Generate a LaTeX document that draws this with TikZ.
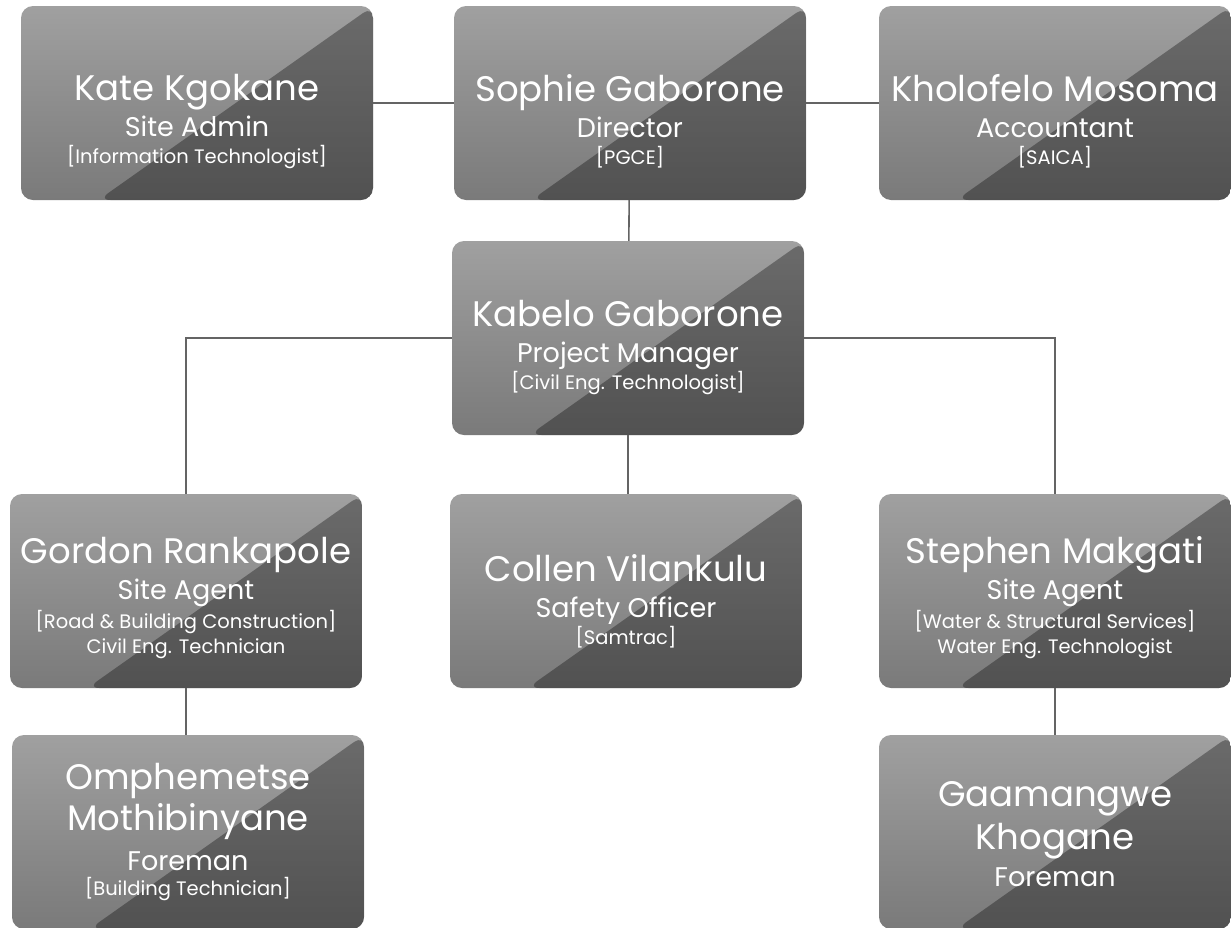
\documentclass[tikz,border=0pt]{standalone}
\usepackage{fontspec}
\setmainfont{Poppins}
\usetikzlibrary{calc}
\definecolor{boxtop}{RGB}{160,160,160}
\definecolor{boxmid}{RGB}{108,108,108}
\definecolor{boxbot}{RGB}{122,122,122}
\definecolor{wirecol}{RGB}{100,100,100}
\newcommand{\nm}[1]{{\fontsize{35.5}{27}\selectfont #1}}
\newcommand{\rl}[1]{{\fontsize{27}{27}\selectfont #1}}
\newcommand{\qf}[1]{{\fontsize{19.5}{27}\selectfont #1}}

\begin{document}
\lineskiplimit=-16000pt\relax
\begin{tikzpicture}[x=1pt, y=-1pt,
	staff/.style={rectangle, rounded corners=12pt, minimum width=352pt, minimum height=194pt,
		top color=boxtop, middle color=boxmid, bottom color=boxbot,
		path picture={\fill[black, opacity=0.33]
			($(path picture bounding box.south west)!0.22!(path picture bounding box.south east)$)
			-- (path picture bounding box.north east) -- (path picture bounding box.south east) -- cycle;}},
	info/.style={text=white, align=center, inner sep=0pt,
		node font=\fontsize{27}{27}\selectfont},
	wire/.style={draw=wirecol, line width=1.6pt}]
	\useasboundingbox (0,0) rectangle (1231,927);

	% boxes
	\node[staff] (kate) at (197,103) {};
	\node[staff] (sophie) at (630,103) {};
	\node[staff] (kholo) at (1055,103) {};
	\node[staff] (kabelo) at (628,338) {};
	\node[staff] (gordon) at (186,591) {};
	\node[staff] (collen) at (626,591) {};
	\node[staff] (stephen) at (1055,591) {};
	\node[staff] (omph) at (188,832) {};
	\node[staff] (gaam) at (1055,832) {};

	% names and titles
	\node[info] (kate-t) at ($(kate)+(0,18)$) {\nm{Kate Kgokane}\\[9pt] \rl{Site Admin}\\ \qf{[Information Technologist]}};
	\node[info] (sophie-t) at ($(sophie)+(0,18)$) {\nm{Sophie Gaborone}\\[9pt] \rl{Director}\\ \qf{[PGCE]}};
	\node[info] (kholo-t) at ($(kholo)+(0,18)$) {\nm{Kholofelo Mosoma}\\[9pt] \rl{Accountant}\\ \qf{[SAICA]}};
	\node[info] (kabelo-t) at ($(kabelo)+(0,9)$) {\nm{Kabelo Gaborone}\\[9pt] \rl{Project Manager}\\ \qf{[Civil Eng. Technologist]}};
	\node[info] (gordon-t) at ($(gordon)+(0,7)$) {\nm{Gordon Rankapole}\\[9pt] \rl{Site Agent}\\[2pt] \qf{[Road \& Building Construction]}\\[-2pt] \qf{Civil Eng. Technician}};
	\node[info] (collen-t) at ($(collen)+(0,10)$) {\nm{Collen Vilankulu}\\[9pt] \rl{Safety Officer}\\ \qf{[Samtrac]}};
	\node[info] (stephen-t) at ($(stephen)+(0,7)$) {\nm{Stephen Makgati}\\[9pt] \rl{Site Agent}\\[2pt] \qf{[Water \& Structural Services]}\\[-2pt] \qf{Water Eng. Technologist}};
	\node[info] (omph-t) at (omph) {\nm{Omphemetse}\\[14pt] \nm{Mothibinyane}\\[13pt] \rl{Foreman}\\[-2pt] \qf{[Building Technician]}};
	\node[info] (gaam-t) at ($(gaam)+(0,2)$) {\nm{Gaamangwe}\\[16pt] \nm{Khogane}\\[10pt] \rl{Foreman}};

	\draw[wire] (kate) -- (sophie);
	\draw[wire] (sophie) -- (kholo);
	\draw[wire] (sophie) -- (kabelo);
	\draw[wire] (kabelo.west) -| (gordon.north);
	\draw[wire] (kabelo.east) -| (stephen.north);
	\draw[wire] (kabelo.south) -- (kabelo.south |- collen.north);
	\draw[wire] (gordon.south) -- (gordon.south |- omph.north);
	\draw[wire] (stephen) -- (gaam);
\end{tikzpicture}
\end{document}
